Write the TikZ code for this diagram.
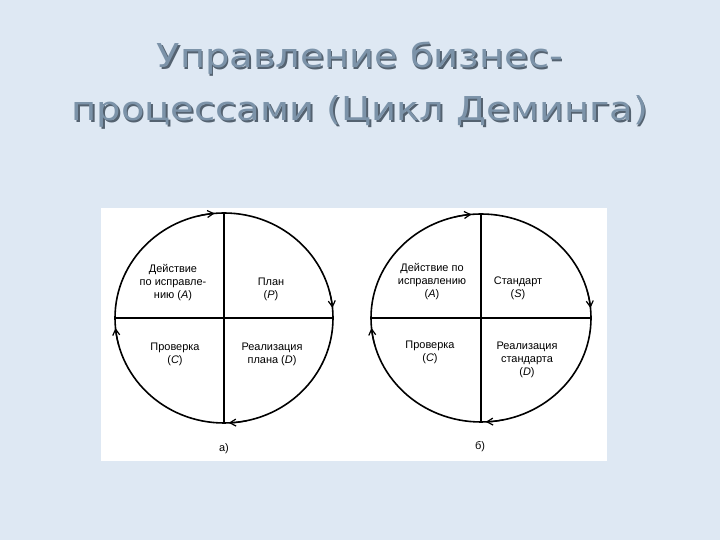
\documentclass[tikz,border=0pt]{standalone}
\usepackage{fontspec}
\setmainfont{Liberation Sans}
\newfontfamily\titlefont[FakeStretch=1.17]{DejaVu Sans}
\usetikzlibrary{arrows.meta,shapes.geometric}
\definecolor{bgblue}{RGB}{222,232,243}
\definecolor{titlefg}{RGB}{124,147,169}
\definecolor{titlesh}{RGB}{84,98,112}
\tikzset{
  titletext/.style={font=\titlefont\fontsize{33}{33}\selectfont, anchor=base, inner sep=0pt},
  cyc/.style={draw=black, line width=1.6bp, ellipse, inner sep=0pt},
  axis/.style={draw=black, line width=2bp},
  lbl/.style={font=\fontsize{11}{13.5}\selectfont, align=center, inner sep=0pt, text=black},
  arr/.style={draw=black, line width=1.2bp, -{Straight Barb[length=6bp,width=7bp]}},
  sub/.style={font=\fontsize{11}{13}\selectfont, inner sep=0pt}
}
\begin{document}
\begin{tikzpicture}[x=1bp,y=1bp]
\useasboundingbox (0,0) rectangle (720,540);
\fill[bgblue] (0,0) rectangle (720,540);
% title
\node[titletext, text=titlesh] at (361.5,470.5) {Управление бизнес-};
\node[titletext, text=titlefg] (t1) at (360,472) {Управление бизнес-};
\node[titletext, text=titlesh] at (361.5,417.5) {процессами (Цикл Деминга)};
\node[titletext, text=titlefg] (t2) at (360,419) {процессами (Цикл Деминга)};
% panel
\fill[white] (101,79) rectangle (607,332);
% left cycle
\node[cyc, minimum width=218bp, minimum height=210bp] (L) at (224,222) {};
\draw[axis] (L.north) -- (L.south);
\draw[axis] (L.west) -- (L.east);
\draw[arr] (L.center) ++(104:109 and 105) arc[start angle=104, end angle=95, x radius=109, y radius=105];
\draw[arr] (L.center) ++(15:109 and 105) arc[start angle=15, end angle=5.5, x radius=109, y radius=105];
\draw[arr] (L.center) ++(282:109 and 105) arc[start angle=282, end angle=272.5, x radius=109, y radius=105];
\draw[arr] (L.center) ++(195:109 and 105) arc[start angle=195, end angle=185.5, x radius=109, y radius=105];
\node[lbl, anchor=base] (La) at (173,241) {Действие\\по исправле-\\нию (\textit{A})};
\node[lbl, anchor=base] (Lp) at (271,241) {План\\(\textit{P})};
\node[lbl, anchor=base] (Lc) at (175,176) {Проверка\\(\textit{C})};
\node[lbl, anchor=base] (Ld) at (272,176) {Реализация\\плана (\textit{D})};
\node[sub, anchor=base] (La2) at (224,88) {а)};
% right cycle
\node[cyc, minimum width=220bp, minimum height=208bp] (R) at (481,222) {};
\draw[axis] (R.north) -- (R.south);
\draw[axis] (R.west) -- (R.east);
\draw[arr] (R.center) ++(104:110 and 104) arc[start angle=104, end angle=95, x radius=110, y radius=104];
\draw[arr] (R.center) ++(15:110 and 104) arc[start angle=15, end angle=5.5, x radius=110, y radius=104];
\draw[arr] (R.center) ++(282:110 and 104) arc[start angle=282, end angle=272.5, x radius=110, y radius=104];
\draw[arr] (R.center) ++(195:110 and 104) arc[start angle=195, end angle=185.5, x radius=110, y radius=104];
\node[lbl, anchor=base] (Ra) at (432,242) {Действие по\\исправлению\\(\textit{A})};
\node[lbl, anchor=base] (Rs) at (518,242) {Стандарт\\(\textit{S})};
\node[lbl, anchor=base] (Rc) at (430,178) {Проверка\\(\textit{C})};
\node[lbl, anchor=base] (Rd) at (527,164) {Реализация\\стандарта\\(\textit{D})};
\node[sub, anchor=base] (Rb2) at (480,90) {б)};
\end{tikzpicture}
\end{document}
